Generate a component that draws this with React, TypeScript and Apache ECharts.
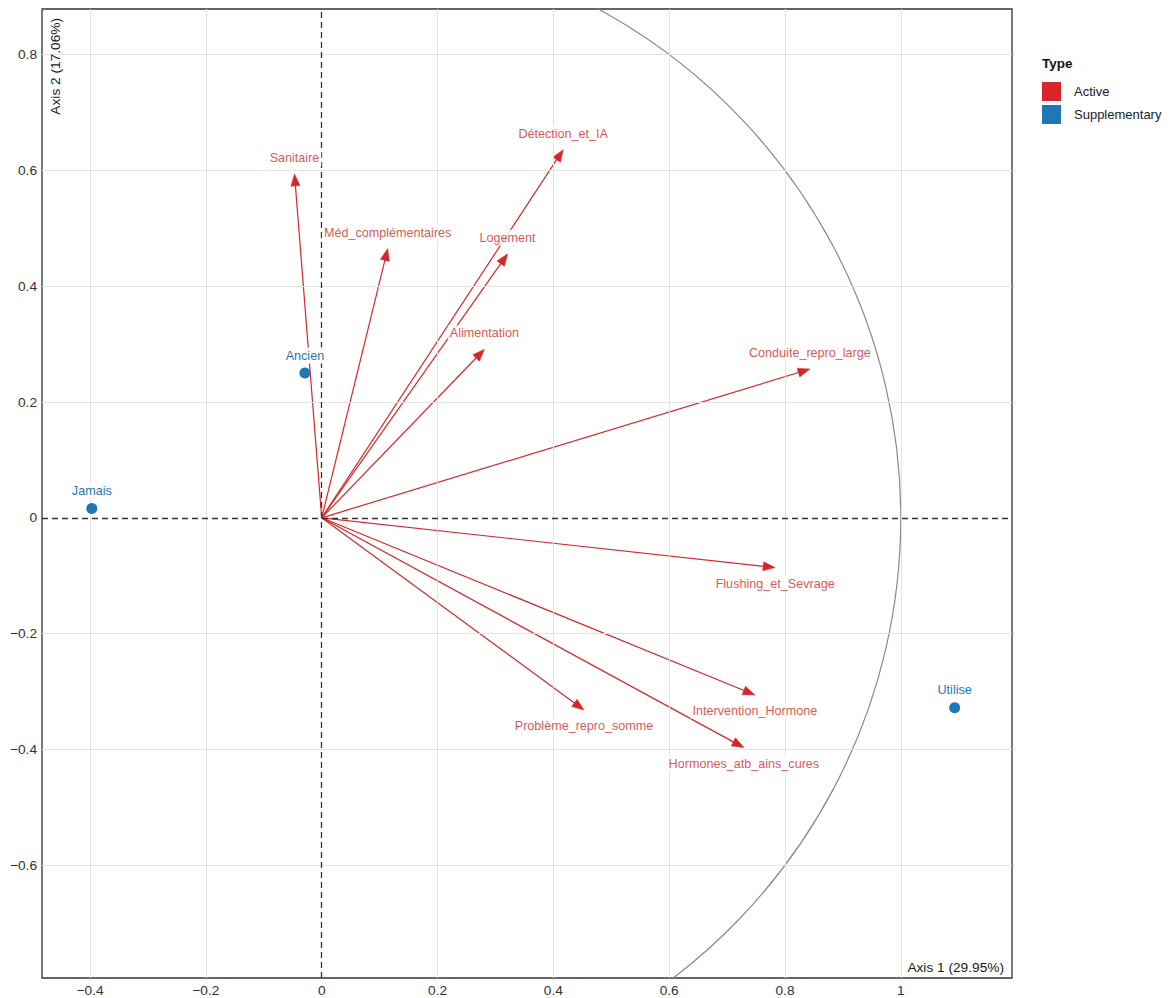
import React, { useEffect, useRef } from "react";
import * as echarts from "echarts";

// ---- data ----
const activeNames = [
  "Sanitaire",
  "Méd_complémentaires",
  "Détection_et_IA",
  "Logement",
  "Alimentation",
  "Conduite_repro_large",
  "Flushing_et_Sevrage",
  "Intervention_Hormone",
  "Hormones_atb_ains_cures",
  "Problème_repro_somme",
];
const activeX = [-0.047, 0.114, 0.417, 0.321, 0.281, 0.843, 0.783, 0.748, 0.729, 0.453];
const activeY = [0.594, 0.465, 0.636, 0.456, 0.291, 0.257, -0.086, -0.306, -0.397, -0.332];

const supNames = ["Ancien", "Jamais", "Utilise"];
const supX = [-0.029, -0.397, 1.093];
const supY = [0.25, 0.016, -0.328];

const xTicks = [-0.4, -0.2, 0, 0.2, 0.4, 0.6, 0.8, 1];
const yTicks = [-0.6, -0.4, -0.2, 0, 0.2, 0.4, 0.6, 0.8];
const xRange = [-0.483, 1.192];
const yRange = [-0.795, 0.879];
const arrowOrigin = [0, 0];
const circleCenter = [0, 0];
const circleRadius = 1;

const axis1Title = "Axis 1 (29.95%)";
const axis2Title = "Axis 2 (17.06%)";
const legendTitle = "Type";

const RED = "#D62728";
const BLUE = "#1F77B4";
const FONT = "'Liberation Sans', Arial, Helvetica, sans-serif";

const fmt = (v: number) => {
  const s = String(Math.round(v * 10) / 10);
  return s.startsWith("-") ? "\u2212" + s.slice(1) : s;
};

export default function App() {
  const ref = useRef<HTMLDivElement>(null);
  useEffect(() => {
    if (!ref.current) return;
    const chart = echarts.init(ref.current, undefined, { renderer: "svg" });

    const labelBox = {
      backgroundColor: "#ffffff",
      padding: [1, 2],
      lineHeight: 14,
      fontFamily: FONT,
    };

    const option: any = {
      animation: false,
      backgroundColor: "#ffffff",
      grid: {
        left: 42,
        top: 9,
        width: 970,
        height: 969,
        show: true,
        borderColor: "#333333",
        borderWidth: 1.3,
        backgroundColor: "transparent",
        containLabel: false,
      },
      xAxis: {
        type: "value",
        min: xRange[0],
        max: xRange[1],
        splitLine: { show: false },
        axisLine: { show: false },
        axisTick: { show: false },
        axisLabel: {
          customValues: xTicks,
          formatter: (v: number) => fmt(v),
          fontSize: 13.7,
          color: "#333333",
          fontFamily: FONT,
          margin: 5,
        },
      },
      yAxis: {
        type: "value",
        min: yRange[0],
        max: yRange[1],
        splitLine: { show: false },
        axisLine: { show: false },
        axisTick: { show: false },
        axisLabel: {
          customValues: yTicks,
          formatter: (v: number) => fmt(v),
          fontSize: 13.7,
          color: "#333333",
          fontFamily: FONT,
          margin: 5,
        },
      },
      legend: {
        orient: "vertical",
        left: 1042,
        top: 82,
        padding: 0,
        itemWidth: 19,
        itemHeight: 19,
        itemGap: 4,
        selectedMode: false,
        data: [
          { name: "Active", icon: "rect" },
          { name: "Supplementary", icon: "rect" },
        ],
        textStyle: {
          fontSize: 13,
          color: "#222222",
          fontFamily: FONT,
          padding: [0, 0, 0, 8],
        },
      },
      graphic: [
        {
          type: "text",
          x: 1042,
          y: 63,
          style: {
            text: legendTitle,
            font: `bold 13.5px ${FONT}`,
            fill: "#111111",
            textAlign: "left",
            textVerticalAlign: "middle",
            align: "left",
            verticalAlign: "middle",
          },
        },
        {
          type: "text",
          x: 1004,
          y: 967,
          z: 20,
          style: {
            text: axis1Title,
            font: `13.7px ${FONT}`,
            fill: "#1a1a1a",
            textAlign: "right",
            textVerticalAlign: "middle",
            align: "right",
            verticalAlign: "middle",
          },
        },
        {
          type: "text",
          x: 55,
          y: 18,
          rotation: Math.PI / 2,
          z: 20,
          style: {
            text: axis2Title,
            font: `13.7px ${FONT}`,
            fill: "#1a1a1a",
            textAlign: "right",
            textVerticalAlign: "middle",
            align: "right",
            verticalAlign: "middle",
          },
        },
      ],
      series: [
        {
          type: "line",
          name: "grid",
          data: [],
          z: 0,
          silent: true,
          markLine: {
            silent: true,
            symbol: "none",
            label: { show: false },
            lineStyle: { color: "#e3e3e3", width: 1, type: "solid" },
            data: [
              ...xTicks.filter((v) => v !== 0).map((v) => ({ xAxis: v })),
              ...yTicks.filter((v) => v !== 0).map((v) => ({ yAxis: v })),
            ],
          },
        },
        {
          type: "line",
          name: "zero",
          data: [],
          z: 1,
          silent: true,
          markLine: {
            silent: true,
            symbol: "none",
            label: { show: false },
            lineStyle: { color: "#333333", width: 1.3, type: [6, 4] },
            data: [{ xAxis: 0 }, { yAxis: 0 }],
          },
        },
        {
          type: "custom",
          name: "circle",
          coordinateSystem: "cartesian2d",
          clip: true,
          silent: true,
          z: 1,
          data: [[circleCenter[0], circleCenter[1], circleRadius]],
          renderItem: (_p: any, api: any) => {
            const c = api.coord([api.value(0), api.value(1)]);
            const e = api.coord([api.value(0) + api.value(2), api.value(1)]);
            return {
              type: "circle",
              shape: { cx: c[0], cy: c[1], r: Math.abs(e[0] - c[0]) },
              style: { fill: "none", stroke: "#8a8a8a", lineWidth: 1.2 },
            };
          },
        },
        {
          type: "custom",
          name: "Active",
          coordinateSystem: "cartesian2d",
          z: 3,
          itemStyle: { color: RED },
          data: activeX.map((x, i) => [x, activeY[i]]),
          renderItem: (_p: any, api: any) => {
            const p0 = api.coord(arrowOrigin);
            const p1 = api.coord([api.value(0), api.value(1)]);
            const dx = p1[0] - p0[0];
            const dy = p1[1] - p0[1];
            const len = Math.hypot(dx, dy) || 1;
            const ux = dx / len;
            const uy = dy / len;
            const hl = 12;
            const hw = 4.6;
            const bx = p1[0] - ux * hl;
            const by = p1[1] - uy * hl;
            return {
              type: "group",
              children: [
                {
                  type: "line",
                  shape: { x1: p0[0], y1: p0[1], x2: bx + ux * 1, y2: by + uy * 1 },
                  style: { stroke: RED, lineWidth: 1.2 },
                },
                {
                  type: "polygon",
                  shape: {
                    points: [
                      [p1[0], p1[1]],
                      [bx - uy * hw, by + ux * hw],
                      [bx + uy * hw, by - ux * hw],
                    ],
                  },
                  style: { fill: RED, stroke: RED, lineWidth: 0.5 },
                },
              ],
            };
          },
        },
        {
          type: "scatter",
          name: "ActiveLabels",
          z: 6,
          silent: true,
          symbolSize: 0,
          itemStyle: { color: RED },
          data: activeX.map((x, i) => ({
            value: [x, activeY[i]],
            name: activeNames[i],
            label: { position: activeY[i] >= 0 ? "top" : "bottom" },
          })),
          label: {
            show: true,
            formatter: (p: any) => p.name,
            distance: 8,
            fontSize: 12.6,
            color: RED,
            ...labelBox,
          },
        },
        {
          type: "scatter",
          name: "Supplementary",
          z: 5,
          symbol: "circle",
          symbolSize: 11,
          itemStyle: { color: BLUE, opacity: 1 },
          data: supX.map((x, i) => ({ value: [x, supY[i]], name: supNames[i] })),
          label: {
            show: true,
            position: "top",
            formatter: (p: any) => p.name,
            distance: 4,
            fontSize: 12.6,
            color: BLUE,
            ...labelBox,
          },
        },
      ],
    };

    chart.setOption(option);
    return () => chart.dispose();
  }, []);

  return (
    <div
      ref={ref}
      style={{ position: "absolute", left: 0, top: 0, width: 1170, height: 998 }}
    />
  );
}
